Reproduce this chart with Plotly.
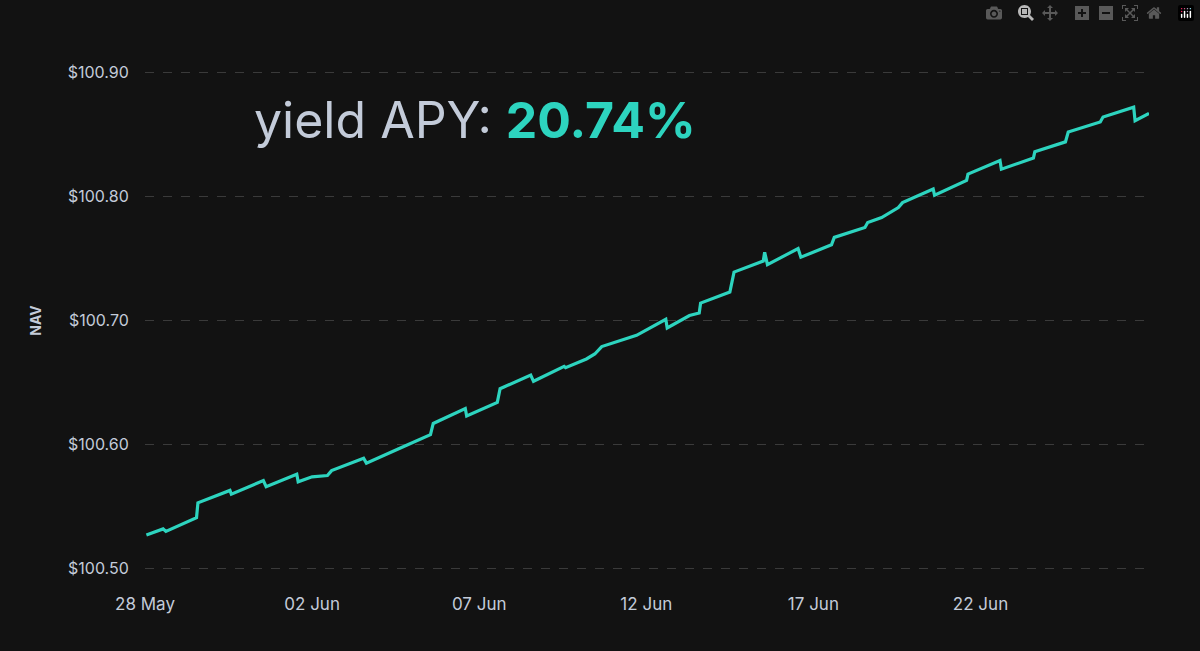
import plotly.graph_objects as go

# NAV readings (hourly timestamps)
dates = [
    "2024-05-28 01:00", "2024-05-28 13:00", "2024-05-28 15:00", "2024-05-29 13:00", "2024-05-29 14:00",
    "2024-05-30 13:00", "2024-05-30 14:00", "2024-05-31 13:00", "2024-05-31 15:00", "2024-06-01 13:00",
    "2024-06-01 14:00", "2024-06-02 00:00", "2024-06-02 11:00", "2024-06-02 14:00", "2024-06-03 13:00",
    "2024-06-03 15:00", "2024-06-04 15:00", "2024-06-05 13:00", "2024-06-05 15:00", "2024-06-06 14:00",
    "2024-06-06 15:00", "2024-06-07 13:00", "2024-06-07 15:00", "2024-06-08 13:00", "2024-06-08 15:00",
    "2024-06-09 13:00", "2024-06-09 14:00", "2024-06-10 05:00", "2024-06-10 11:00", "2024-06-10 16:00",
    "2024-06-11 17:00", "2024-06-12 14:00", "2024-06-12 15:00", "2024-06-13 07:00", "2024-06-13 14:00",
    "2024-06-13 15:00", "2024-06-14 12:00", "2024-06-14 15:00", "2024-06-15 12:00", "2024-06-15 13:00",
    "2024-06-15 15:00", "2024-06-16 13:00", "2024-06-16 15:00", "2024-06-17 13:00", "2024-06-17 15:00",
    "2024-06-18 13:00", "2024-06-18 15:00", "2024-06-19 01:00", "2024-06-19 13:00", "2024-06-19 16:00",
    "2024-06-20 14:00", "2024-06-20 15:00", "2024-06-21 14:00", "2024-06-21 15:00", "2024-06-22 14:00",
    "2024-06-22 15:00", "2024-06-23 14:00", "2024-06-23 15:00", "2024-06-24 13:00", "2024-06-24 15:00",
    "2024-06-25 14:00", "2024-06-25 16:00", "2024-06-26 14:00", "2024-06-26 15:00", "2024-06-27 01:00",
]
nav = [
    100.527, 100.532, 100.530, 100.541, 100.553,
    100.563, 100.560, 100.571, 100.566, 100.576,
    100.570, 100.574, 100.575, 100.579, 100.589,
    100.585, 100.597, 100.608, 100.617, 100.629,
    100.623, 100.634, 100.645, 100.656, 100.651,
    100.663, 100.662, 100.669, 100.673, 100.679,
    100.688, 100.701, 100.694, 100.704, 100.706,
    100.714, 100.723, 100.739, 100.748, 100.755,
    100.745, 100.758, 100.751, 100.761, 100.767,
    100.775, 100.779, 100.783, 100.791, 100.795,
    100.806, 100.801, 100.813, 100.818, 100.829,
    100.822, 100.831, 100.836, 100.844, 100.852,
    100.860, 100.864, 100.872, 100.861, 100.867,
]

tick_dates = ["2024-05-28", "2024-06-02", "2024-06-07", "2024-06-12", "2024-06-17", "2024-06-22"]
tick_text = ["28 May", "02 Jun", "07 Jun", "12 Jun", "17 Jun", "22 Jun"]
y_ticks = [100.5, 100.6, 100.7, 100.8, 100.9]
apy = "20.74%"

fig = go.Figure(go.Scatter(x=dates, y=nav, mode="lines",
                           line=dict(color="#2dd4bf", width=3.2), hoverinfo="skip"))

fig.update_layout(
    width=1200, height=651,
    paper_bgcolor="#121212", plot_bgcolor="#121212",
    margin=dict(l=145, r=51, t=60, b=70),
    showlegend=False,
    font=dict(family="Inter, Lato, sans-serif", color="#c3cbd9", size=16),
    xaxis=dict(range=["2024-05-28 00:00", "2024-06-27 01:00"], tickvals=tick_dates, ticktext=tick_text,
               showgrid=False, zeroline=False, showline=False, ticks="outside", ticklen=8,
               tickcolor="rgba(0,0,0,0)", tickfont=dict(size=17)),
    yaxis=dict(range=[100.49, 100.91], tickvals=y_ticks,
               ticktext=["$%.2f" % v for v in y_ticks],
               gridcolor="#3a3a3a", griddash="dash", gridwidth=1, zeroline=False,
               ticks="outside", ticklen=12, tickcolor="rgba(0,0,0,0)",
               title=dict(text="<b>NAV</b>", font=dict(size=14, color="#c3cbd9"), standoff=22)),
    annotations=[dict(
        xref="paper", yref="paper", x=0.107, y=0.885, xanchor="left", yanchor="middle",
        showarrow=False,
        text="yield APY: <b><span style='color:#2dd4bf'>" + apy + "</span></b>",
        font=dict(size=50, color="#c3cbd9", family="Inter, Lato, sans-serif"),
    )],
)

fig.write_html("out.html",
               post_script="document.body.style.margin='0';document.body.style.background='#121212';")
